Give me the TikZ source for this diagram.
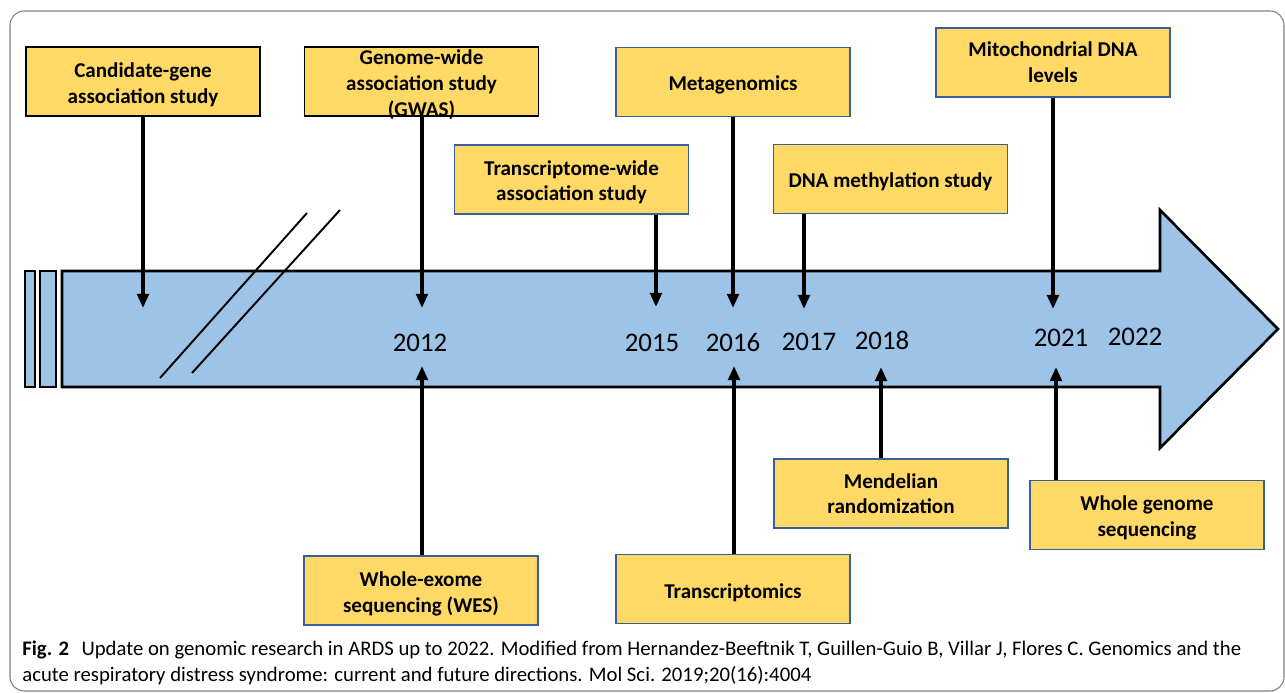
\documentclass[tikz,border=0pt]{standalone}
\usepackage{fontspec}
\setmainfont{Carlito}
\usetikzlibrary{arrows.meta}
\definecolor{boxfill}{HTML}{FFD966}
\definecolor{boxblue}{HTML}{3B5E9C}
\definecolor{tlfill}{HTML}{9DC3E6}
\definecolor{framegray}{HTML}{7F7F7F}
\newcommand{\tsa}{\rule{0pt}{12.5pt}}
\newcommand{\tsb}{\rule{0pt}{11.5pt}}
\begin{document}
\begin{tikzpicture}[x=0.02cm,y=-0.02cm,
  evbox/.style={rectangle, draw=boxblue, fill=boxfill, line width=1.1pt,
    minimum width=4.68cm, minimum height=1.38cm, inner sep=0pt, align=center,
    font=\fontsize{12}{14.6}\selectfont\bfseries},
  blackbox/.style={evbox, draw=black},
  yearlbl/.style={inner sep=0pt, font=\fontsize{15.3}{18}\selectfont},
  conn/.style={line width=2pt, -{Triangle[length=8pt,width=6.5pt]}},
  tline/.style={draw=black, fill=tlfill, line width=1.5pt, line join=miter},
  slash/.style={line width=1.1pt},
  capline/.style={anchor=base west, inner sep=0pt, font=\fontsize{11.8}{14.7}\selectfont}
]
\useasboundingbox (0,0) rectangle (1285,693);
% outer frame
\draw[framegray, line width=0.6pt, rounded corners=8pt] (10,11) rectangle (1284,691);
% timeline arrow
\draw[tline] (62,271) -- (1160,271) -- (1160,210) -- (1278,329) -- (1160,448) -- (1160,387) -- (62,387) -- cycle;
\draw[tline] (25,271) rectangle (35,387);
\draw[tline] (40,271) rectangle (56,387);
% break slashes
\draw[slash] (160,378) -- (307,213);
\draw[slash] (192,373) -- (340,210);
% boxes
\node[blackbox] (cand) at (143,81.5) {\tsa Candidate-gene\\association study};
\node[blackbox] (gwas) at (421.5,81.5) {\smash{\raisebox{-5.2pt}{\begin{tabular}{@{}c@{}}Genome-wide\\association study\\(GWAS)\end{tabular}}}};
\node[evbox] (wes) at (421,590.5) {\tsa Whole-exome\\sequencing (WES)};
\node[evbox] (twas) at (571.5,179.5) {\tsb Transcriptome-wide\\association study};
\node[evbox] (meta) at (733,82) {\tsb Metagenomics};
\node[evbox] (dnam) at (890.5,179) {\tsb DNA methylation study};
\node[evbox] (mito) at (1053,62.5) {Mitochondrial DNA\\levels};
\node[evbox] (mend) at (891,493.5) {Mendelian\\randomization};
\node[evbox] (wgs) at (1147,515) {\tsb Whole genome\\sequencing};
\node[evbox] (trans) at (733,589) {\tsa Transcriptomics};
% years
\node[yearlbl] (y2012) at (420,343) {2012};
\node[yearlbl] (y2015) at (652,343) {2015};
\node[yearlbl] (y2016) at (733,343) {2016};
\node[yearlbl] (y2017) at (809,342) {2017};
\node[yearlbl] (y2018) at (882,340) {2018};
\node[yearlbl] (y2021) at (1061,338) {2021};
\node[yearlbl] (y2022) at (1135,337) {2022};
% connector tips
\coordinate (tcand) at (143,308);
\coordinate (tgwas) at (422,308);
\coordinate (twes) at (422,366);
\coordinate (ttwas) at (656,307);
\coordinate (tmeta) at (733,308);
\coordinate (ttrans) at (734,366);
\coordinate (tdnam) at (804,309);
\coordinate (tmend) at (881,367);
\coordinate (tmito) at (1053,309);
\coordinate (twgs) at (1056,367);
% connectors
\draw[conn] (cand.south -| tcand) -- (tcand);
\draw[conn] (gwas.south -| tgwas) -- (tgwas);
\draw[conn] (wes.north -| twes) -- (twes);
\draw[conn] (twas.south -| ttwas) -- (ttwas);
\draw[conn] (meta.south -| tmeta) -- (tmeta);
\draw[conn] (trans.north -| ttrans) -- (ttrans);
\draw[conn] (dnam.south -| tdnam) -- (tdnam);
\draw[conn] (mend.north -| tmend) -- (tmend);
\draw[conn] (mito.south -| tmito) -- (tmito);
\draw[conn] (wgs.north -| twgs) -- (twgs);
% caption
\node[capline] (cap1) at (22,655) {\textbf{Fig. 2}\hspace{0.6em}Update on genomic research in ARDS up to 2022. Modified from Hernandez-Beeftnik T, Guillen-Guio B, Villar J, Flores C. Genomics and the};
\node[capline] (cap2) at (22,681) {acute respiratory distress syndrome: current and future directions. Mol Sci. 2019;20(16):4004};
\end{tikzpicture}
\end{document}
